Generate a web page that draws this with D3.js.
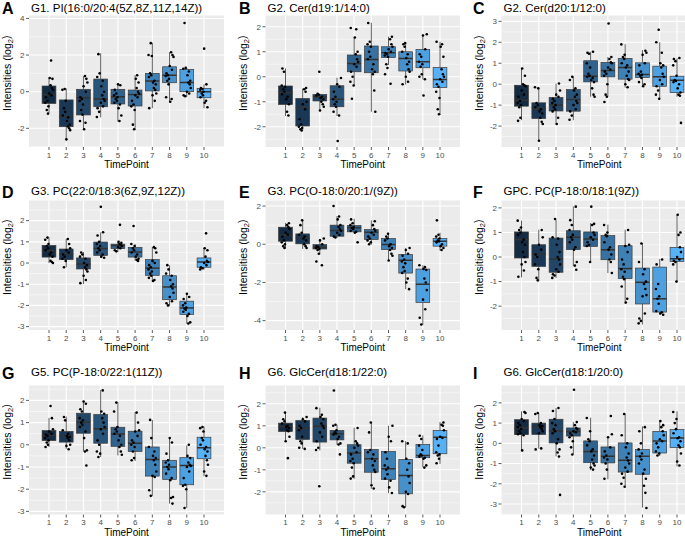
<!DOCTYPE html>
<html><head><meta charset="utf-8">
<script src="https://cdn.jsdelivr.net/npm/d3@7"></script>
<style>body{margin:0;background:#fff}svg{display:block;font-family:"Liberation Sans",Arial,sans-serif}</style>
</head><body><svg id="c" width="685" height="537"></svg>
<script>
const timePoints = [1,2,3,4,5,6,7,8,9,10];
const letters = ["A","B","C","D","E","F","G","H","I"];
const titles = ["G1. PI(16:0/20:4(5Z,8Z,11Z,14Z))","G2. Cer(d19:1/14:0)","G2. Cer(d20:1/12:0)",
  "G3. PC(22:0/18:3(6Z,9Z,12Z))","G3. PC(O-18:0/20:1/(9Z))","GPC. PC(P-18:0/18:1(9Z))",
  "G5. PC(P-18:0/22:1(11Z))","G6. GlcCer(d18:1/22:0)","G6. GlcCer(d18:1/20:0)"];
const yTicks = [[-2,0,2,4],[-2,-1,0,1,2],[-2,-1,0,1,2,3],[-3,-2,-1,0,1,2],[-4,-2,0,2],[-2,-1,0,1,2],[-3,-2,-1,0,1,2],[-2,-1,0,1,2],[-3,-2,-1,0,1,2]];
const yDomains = [[-3.02,4.16],[-2.81,2.45],[-3.0,3.28],[-3.16,2.95],[-4.49,2.29],[-2.97,2.3],[-3.14,2.67],[-3.03,2.83],[-3.52,2.86]];

// box stats: [lower whisker, q1, median, q3, upper whisker]
const boxesA = [[-1.2,-0.64,-0.15,0.31,0.75],[-2.7,-1.91,-1.36,-0.45,0.18],[-2.1,-1.27,-0.33,0.13,0.85],[-1.4,-0.82,-0.4,0.69,2.1],[-1.64,-0.67,-0.27,0.13,0.42],[-2.1,-0.78,-0.15,0.09,0.9],[-0.9,0.04,0.58,1.0,2.67],[-0.58,0.49,0.9,1.36,2.15],[-0.27,0.0,0.5,1.22,1.3],[-0.9,-0.33,0.0,0.18,0.4]];
const ptsA = [[1.7,0.75,0.7,0.35,0.2,0.1,-0.1,-0.2,-0.3,-0.5,-0.6,-0.8,-1.0,-1.2],[0.15,0.1,-0.5,-0.9,-1.1,-1.3,-1.4,-1.6,-1.8,-1.9,-2.0,-2.1,-2.6],[0.85,0.7,0.5,0.3,0.0,-0.3,-0.4,-0.5,-0.7,-1.0,-1.25,-1.6,-1.7,-2.05],[2.05,1.0,0.8,0.6,0.3,0.0,-0.2,-0.4,-0.5,-0.6,-0.8,-0.9,-1.1,-1.38],[0.4,0.35,0.1,-0.1,-0.2,-0.3,-0.4,-0.5,-0.6,-0.7,-0.9,-1.3,-1.6],[0.9,0.7,0.5,0.2,0.0,-0.1,-0.2,-0.3,-0.5,-0.7,-0.8,-1.0,-1.8,-2.05],[2.65,2.0,1.95,1.0,0.9,0.8,0.6,0.5,0.4,0.2,0.1,-0.1,-0.2,-0.5,-0.9],[2.15,2.0,1.9,1.4,1.2,1.0,0.9,0.85,0.7,0.6,0.4,-0.3,-0.4,-0.55],[3.75,1.3,1.25,1.1,0.9,0.6,0.5,0.4,0.2,0.0,-0.1,-0.2,-0.25],[2.35,0.4,0.2,0.15,0.1,0.0,-0.1,-0.2,-0.3,-0.5,-0.6,-0.85]];

const boxesB = [[-1.57,-1.11,-0.64,-0.37,0.33],[-2.17,-1.97,-1.24,-0.87,-0.47],[-1.33,-0.97,-0.8,-0.71,-0.68],[-1.57,-1.2,-0.9,-0.36,-0.04],[-0.33,0.2,0.53,0.87,1.57],[-1.4,0.16,0.69,1.23,2.16],[0.47,0.77,0.96,1.2,1.6],[-0.31,0.23,0.73,1.0,1.36],[-0.1,0.36,0.6,1.09,1.7],[-1.53,-0.43,-0.11,0.37,1.4]];
const ptsB = [[0.33,0.2,-0.35,-0.4,-0.5,-0.6,-0.7,-0.8,-0.9,-1.1,-1.4,-1.55],[-0.45,-0.5,-0.6,-1.0,-1.1,-1.3,-1.7,-1.9,-2.0,-2.05,-2.1,-2.15],[0.2,-0.68,-0.72,-0.75,-0.8,-0.85,-0.9,-1.0,-1.1,-1.2,-1.35],[-0.05,-0.3,-0.4,-0.6,-0.8,-0.9,-1.0,-1.1,-1.2,-1.4,-1.55,-2.57],[1.95,1.9,1.57,1.0,0.9,0.7,0.6,0.5,0.4,0.2,0.0,-0.2,-0.35,-0.88],[2.15,1.4,1.3,1.2,1.0,0.8,0.7,0.5,0.3,0.2,0.1,-0.55,-1.4],[1.6,1.5,1.3,1.2,1.1,1.0,0.95,0.9,0.85,0.8,0.5,0.35,0.1,-0.28],[1.35,1.3,1.2,1.0,0.9,0.75,0.6,0.5,0.3,0.2,0.0,-0.2,-0.3],[1.7,1.65,1.1,0.9,0.8,0.6,0.5,0.4,0.1,0.0,-0.1,-0.75],[1.4,1.3,1.2,0.8,0.3,0.1,0.0,-0.1,-0.2,-0.3,-0.4,-0.6,-0.85,-1.3,-1.5]];

const boxesC = [[-1.72,-1.05,-0.77,-0.05,0.75],[-2.7,-1.64,-1.16,-0.89,-0.16],[-1.91,-1.28,-1.0,-0.64,0.03],[-1.72,-1.29,-0.73,-0.26,0.35],[-0.6,0.11,0.38,1.12,1.55],[-0.6,0.35,0.65,1.04,1.3],[-0.16,0.24,0.8,1.23,1.91],[-0.1,0.32,0.46,1.02,1.63],[-0.69,-0.1,0.35,0.86,2.0],[-0.6,-0.4,0.19,0.38,1.23]];
const ptsC = [[0.75,0.4,0.0,-0.05,-0.1,-0.3,-0.5,-0.6,-0.8,-0.9,-1.0,-1.1,-1.6,-1.75],[-0.15,-0.2,-0.9,-1.0,-1.1,-1.2,-1.3,-1.4,-1.6,-1.8,-1.9,-2.7],[0.03,-0.3,-0.5,-0.6,-0.7,-0.8,-0.9,-1.0,-1.1,-1.2,-1.3,-1.6,-1.9],[0.35,0.2,-0.2,-0.3,-0.5,-0.6,-0.8,-0.9,-1.0,-1.2,-1.3,-1.5,-1.7],[1.55,1.5,1.45,1.0,0.8,0.5,0.4,0.35,0.3,0.2,0.1,-0.2,-0.5,-0.6],[2.9,1.3,1.2,1.05,1.0,0.8,0.7,0.6,0.5,0.4,0.0,-0.5,-0.6,-0.85],[1.9,1.4,1.3,1.2,1.0,0.9,0.8,0.6,0.4,0.25,0.2,0.0,-0.15],[1.6,1.5,1.4,1.0,0.9,0.6,0.5,0.45,0.4,0.3,0.1,0.0,-0.1],[2.6,2.0,1.5,1.0,0.9,0.8,0.5,0.35,0.2,0.0,-0.1,-0.3,-0.5,-0.7],[1.25,1.2,1.1,0.9,0.4,0.2,0.15,0.1,0.0,-0.2,-0.4,-0.5,-0.55,-1.85]];

const boxesD = [[0.0,0.28,0.58,0.83,1.21],[-0.2,0.16,0.42,0.66,1.13],[-0.99,-0.28,-0.05,0.24,0.52],[0.24,0.36,0.68,0.99,1.44],[0.52,0.68,0.83,0.89,1.02],[0.11,0.28,0.52,0.74,0.89],[-0.86,-0.58,-0.24,0.16,0.75],[-2.04,-1.73,-1.13,-0.6,-0.11],[-2.87,-2.43,-2.12,-1.8,-1.46],[-0.31,-0.2,0.05,0.24,0.7]];
const ptsD = [[1.2,1.1,0.9,0.8,0.7,0.6,0.5,0.4,0.3,0.1,0.05,0.0],[1.13,0.9,0.7,0.6,0.5,0.4,0.3,0.2,0.1,-0.2],[0.5,0.4,0.3,0.2,0.0,-0.1,-0.2,-0.3,-0.4,-0.6,-0.8,-0.95],[2.65,1.45,1.3,1.0,0.9,0.8,0.7,0.6,0.5,0.4,0.3,0.25],[1.8,1.0,0.95,0.9,0.85,0.8,0.75,0.7,0.6,0.55],[1.75,0.9,0.8,0.7,0.6,0.5,0.4,0.3,0.2,0.15,0.1],[0.75,0.7,0.5,0.1,0.0,-0.1,-0.2,-0.3,-0.4,-0.5,-0.6,-0.7,-0.8,-0.85],[-0.1,-0.3,-0.5,-0.6,-0.8,-1.0,-1.1,-1.2,-1.4,-1.6,-1.8,-1.9,-2.0],[-1.45,-1.6,-1.7,-1.9,-2.0,-2.1,-2.15,-2.2,-2.3,-2.4,-2.5,-2.8,-2.85],[1.4,0.7,0.6,0.3,0.1,0.05,0.0,-0.1,-0.2,-0.25,-0.3]];

const boxesE = [[-0.23,0.16,0.47,0.89,1.12],[-0.25,0.02,0.33,0.54,1.25],[-0.54,-0.25,-0.16,-0.02,0.28],[0.33,0.42,0.72,1.0,1.47],[0.6,0.65,0.86,0.98,1.33],[-0.02,0.25,0.63,0.77,1.25],[-0.86,-0.28,-0.02,0.3,0.6],[-2.35,-1.51,-0.84,-0.54,-0.19],[-4.23,-3.05,-2.09,-1.3,-1.1],[-0.33,-0.1,0.16,0.3,0.6]];
const ptsE = [[1.1,1.0,0.9,0.8,0.6,0.5,0.4,0.2,0.1,0.0,-0.1,-0.2],[1.25,1.0,0.6,0.5,0.4,0.3,0.2,0.0,-0.1,-0.2],[0.3,0.2,0.0,-0.1,-0.15,-0.2,-0.25,-0.3,-0.5,-0.9,-1.1],[2.0,1.45,1.3,1.0,0.9,0.8,0.7,0.6,0.5,0.4,0.35],[1.3,1.1,1.0,0.9,0.85,0.8,0.7,0.65,0.6,0.1],[1.2,1.0,0.8,0.7,0.6,0.5,0.4,0.3,0.2,0.1,0.0],[0.55,0.4,0.3,0.2,0.0,-0.1,-0.2,-0.3,-0.5,-0.6,-0.85],[-0.2,-0.3,-0.5,-0.6,-0.8,-0.9,-1.0,-1.2,-1.4,-1.5,-1.8,-2.0,-2.35],[-1.1,-1.2,-1.3,-1.35,-1.8,-2.0,-2.4,-2.9,-3.4,-3.85,-4.2],[1.25,0.5,0.4,0.3,0.2,0.15,0.1,0.0,-0.1,-0.2,-0.3]];

const boxesF = [[-0.83,-0.04,0.71,1.02,1.48],[-0.99,-0.38,0.12,0.5,1.11],[-0.85,-0.62,-0.08,0.77,1.52],[-0.38,0.3,0.8,1.07,2.06],[-0.18,0.43,0.73,1.02,1.38],[-0.65,-0.11,0.3,0.87,1.32],[-1.91,-0.88,-0.47,0.46,1.11],[-2.75,-1.91,-1.03,-0.45,0.57],[-2.35,-2.24,-1.7,-0.41,-0.08],[-1.02,-0.18,-0.07,0.39,1.72]];
const ptsF = [[1.48,1.2,1.1,1.0,0.9,0.7,0.6,0.5,0.2,0.0,-0.2,-0.3,-0.55,-0.8],[1.1,0.8,0.5,0.3,0.1,0.0,-0.3,-0.5,-0.85,-0.95],[1.55,0.8,0.75,0.5,0.2,0.0,-0.1,-0.3,-0.5,-0.6,-0.7,-0.75,-0.85],[2.05,1.5,1.3,1.1,0.9,0.8,0.7,0.6,0.4,0.3,-0.2,-0.35,-0.52],[2.05,1.35,1.3,1.0,0.9,0.8,0.7,0.6,0.5,0.45,-0.2],[1.3,1.0,0.9,0.85,0.6,0.4,0.3,0.1,-0.1,-0.2,-0.65],[1.1,0.5,0.45,0.2,-0.1,-0.3,-0.5,-0.6,-0.8,-0.9,-1.2,-1.7,-1.85],[0.55,-0.2,-0.5,-0.7,-1.0,-1.1,-1.3,-1.55,-1.6,-2.3,-2.5,-2.6,-2.7],[-0.1,-0.3,-1.1,-1.3,-1.6,-1.7,-1.9,-2.2,-2.25,-2.3,-2.35],[1.72,1.0,0.9,0.4,0.2,0.0,-0.1,-0.15,-0.2,-0.3,-1.0]];

const boxesG = [[-0.1,0.19,0.42,0.64,1.21],[-0.18,0.12,0.39,0.6,1.27],[-0.3,0.52,1.02,1.42,1.96],[-0.55,0.07,0.72,1.36,2.47],[-0.48,-0.07,0.49,0.79,1.92],[-0.73,-0.3,0.07,0.61,1.47],[-2.32,-1.41,-0.66,-0.1,1.12],[-2.65,-1.56,-1.0,-0.7,0.3],[-2.85,-1.8,-0.93,-0.58,-0.03],[-1.42,-0.63,-0.13,0.34,0.82]];
const ptsG = [[1.75,1.2,0.7,0.6,0.5,0.45,0.4,0.3,0.2,0.1,0.0,-0.1],[1.25,1.1,0.65,0.5,0.4,0.35,0.3,0.2,0.0,-0.05,-0.2],[1.95,1.85,1.6,1.5,1.2,1.1,1.0,0.9,0.8,0.6,0.3,-0.25,-0.3,-0.93],[2.45,1.5,1.4,1.2,1.0,0.8,0.7,0.5,0.2,0.0,-0.3,-0.4,-0.55],[1.9,1.5,0.8,0.7,0.6,0.5,0.4,0.2,0.0,-0.1,-0.3,-0.45],[1.45,1.0,0.65,0.6,0.4,0.2,0.1,0.0,-0.1,-0.3,-0.6,-0.7],[1.12,0.3,-0.1,-0.3,-0.5,-0.6,-0.7,-0.9,-1.2,-1.4,-1.45,-2.05,-2.3],[0.3,0.1,-0.4,-0.7,-0.8,-0.9,-1.0,-1.1,-1.3,-1.5,-1.6,-2.35,-2.4,-2.65],[0.0,-0.5,-0.6,-0.8,-0.9,-0.95,-1.0,-1.2,-1.5,-1.8,-1.85,-2.0,-2.85],[0.8,0.75,0.6,0.3,0.2,0.0,-0.1,-0.2,-0.3,-0.5,-0.7,-0.9,-1.2,-1.4]];

const boxesH = [[0.3,0.74,0.97,1.12,1.62],[-0.05,0.38,0.89,1.24,1.39],[-0.12,0.26,0.98,1.35,1.82],[0.14,0.36,0.64,0.79,1.05],[-1.41,-0.7,-0.24,0.14,0.91],[-1.86,-1.11,-0.5,-0.08,1.15],[-2.06,-1.44,-0.95,-0.17,1.0],[-2.7,-2.09,-1.26,-0.53,0.3],[-0.88,-0.45,-0.35,0.15,0.56],[-0.73,-0.27,0.48,0.79,1.17]];
const ptsH = [[1.6,1.3,1.2,1.1,1.0,0.95,0.9,0.8,0.75,0.5,0.3,-0.47],[1.4,1.3,1.2,1.0,0.9,0.8,0.5,0.3,0.2,0.0,-0.05],[1.8,1.5,1.4,1.3,1.1,1.0,0.9,0.7,0.5,0.3,0.0,-0.1,-1.75],[2.6,1.05,1.0,0.8,0.7,0.65,0.6,0.5,0.4,0.2,0.15,-0.3],[0.9,0.3,0.2,0.1,0.0,-0.2,-0.3,-0.5,-0.6,-0.7,-0.9,-1.3,-1.4],[1.15,0.7,-0.1,-0.2,-0.3,-0.5,-0.6,-0.8,-1.0,-1.1,-1.7,-1.85],[1.0,0.5,0.3,-0.2,-0.5,-0.8,-0.9,-1.0,-1.2,-1.4,-1.5,-1.8,-2.05],[0.3,0.2,-0.5,-0.7,-1.0,-1.3,-1.6,-2.0,-2.1,-2.65,-2.7],[0.55,0.4,0.1,-0.1,-0.3,-0.35,-0.4,-0.45,-0.5,-0.8,-0.9],[1.15,1.05,1.0,0.8,0.5,0.45,0.4,0.1,-0.2,-0.3,-0.35,-0.5,-0.7]];

const boxesI = [[-0.4,0.43,0.76,1.17,1.58],[-0.26,0.44,0.81,1.0,1.5],[-0.64,0.02,0.61,1.19,1.75],[-0.54,0.36,0.59,0.76,1.05],[-1.33,-0.96,-0.4,0.12,1.27],[-1.78,-0.97,-0.64,-0.18,0.31],[-2.16,-1.42,-0.84,0.02,1.47],[-3.18,-1.53,-0.64,-0.31,0.84],[-0.63,-0.48,0.12,0.59,1.14],[-1.14,-0.21,0.26,0.68,1.58]];
const ptsI = [[1.55,1.5,1.2,1.1,1.0,0.9,0.8,0.7,0.6,0.5,0.45,0.4,-0.35],[1.5,1.45,1.0,0.9,0.85,0.8,0.7,0.6,0.5,-0.25,-0.3],[1.75,1.6,1.2,1.0,0.9,0.7,0.6,0.5,0.2,0.0,-0.3,-0.45,-0.65,-2.55],[2.65,1.05,0.9,0.75,0.7,0.6,0.55,0.5,0.4,0.3,0.1,-0.2,-0.55],[1.25,0.6,0.2,0.1,-0.1,-0.3,-0.4,-0.6,-0.8,-1.0,-1.1,-1.2,-1.3],[1.35,0.45,0.3,-0.2,-0.4,-0.6,-0.7,-0.8,-1.0,-1.3,-1.75],[1.45,0.4,0.0,-0.2,-0.5,-0.7,-0.85,-1.0,-1.2,-1.4,-1.5,-1.7,-2.0,-2.15],[0.8,0.6,0.0,-0.3,-0.5,-0.65,-0.8,-1.0,-1.3,-1.5,-1.75,-2.1,-2.45,-3.2],[1.1,0.9,0.8,0.6,0.4,0.2,0.1,0.0,-0.2,-0.4,-0.5,-0.6],[1.55,1.2,1.0,0.7,0.5,0.3,0.25,0.1,-0.1,-0.2,-0.5,-0.9,-1.1]];

const allBoxes = [boxesA,boxesB,boxesC,boxesD,boxesE,boxesF,boxesG,boxesH,boxesI];
const allPts = [ptsA,ptsB,ptsC,ptsD,ptsE,ptsF,ptsG,ptsH,ptsI];
// fixed jitter pattern (fraction of category step)
const jitterPattern = [0.12,-0.18,0.04,-0.09,0.2,-0.22,0.09,-0.03,0.17,-0.13,0.23,-0.06,0.01,-0.2,0.14];

// layout
const colX = [[29,224],[265.5,460],[501.5,697]];
const rowY = [[15.5,147],[200.5,330],[385.5,514.5]];
const titleY = [7.5,191,372];
const letterX = [2,239,473];

const svg = d3.select("#c");
const fillScale = d3.scaleLinear().domain([1,10]).range(["#132B43","#56B1F7"]).interpolate(d3.interpolateLab);

for (let p = 0; p < 9; p++) {
  const col = p % 3, row = Math.floor(p / 3);
  const [x0,x1] = colX[col], [y0,y1] = rowY[row];
  const x = d3.scaleLinear().domain([1,10]).range([x0+20, x1-20]);
  const step = x(2) - x(1);
  const y = d3.scaleLinear().domain(yDomains[p]).range([y1, y0]);
  const g = svg.append("g");
  const clipId = "clip"+p;
  svg.append("clipPath").attr("id",clipId).append("rect").attr("x",x0).attr("y",y0).attr("width",x1-x0).attr("height",y1-y0);
  g.append("rect").attr("x",x0).attr("y",y0).attr("width",x1-x0).attr("height",y1-y0).attr("fill","#EBEBEB");
  const inner = g.append("g").attr("clip-path",`url(#${clipId})`);
  const maj = yTicks[p];
  const st = maj[1]-maj[0];
  const minors = [];
  for (let v = maj[0]-st/2; v <= maj[maj.length-1]+st/2+1e-9; v += st) minors.push(v);
  inner.selectAll(".mn").data(minors.filter(v => v>yDomains[p][0] && v<yDomains[p][1])).join("line")
    .attr("x1",x0).attr("x2",x1).attr("y1",d=>y(d)).attr("y2",d=>y(d)).attr("stroke","#fff").attr("stroke-width",0.5);
  inner.selectAll(".mj").data(maj).join("line")
    .attr("x1",x0).attr("x2",x1).attr("y1",d=>y(d)).attr("y2",d=>y(d)).attr("stroke","#fff").attr("stroke-width",1.1);
  inner.selectAll(".vx").data(timePoints).join("line")
    .attr("x1",d=>x(d)).attr("x2",d=>x(d)).attr("y1",y0).attr("y2",y1).attr("stroke","#fff").attr("stroke-width",1.1);
  const bw = step*0.8;
  const boxes = allBoxes[p];
  timePoints.forEach((t,i) => {
    const [lo,q1,md,q3,hi] = boxes[i];
    const bg = inner.append("g");
    bg.append("line").attr("x1",x(t)).attr("x2",x(t)).attr("y1",y(hi)).attr("y2",y(q3)).attr("stroke","#3a3a3a").attr("stroke-width",0.8);
    bg.append("line").attr("x1",x(t)).attr("x2",x(t)).attr("y1",y(q1)).attr("y2",y(lo)).attr("stroke","#3a3a3a").attr("stroke-width",0.8);
    bg.append("rect").attr("x",x(t)-bw/2).attr("width",bw).attr("y",y(q3)).attr("height",y(q1)-y(q3))
      .attr("fill",fillScale(t)).attr("stroke","#3a3a3a").attr("stroke-width",0.7);
    bg.append("line").attr("x1",x(t)-bw/2).attr("x2",x(t)+bw/2).attr("y1",y(md)).attr("y2",y(md)).attr("stroke","#333").attr("stroke-width",1.5);
  });
  timePoints.forEach((t,i) => {
    const pts = allPts[p][i];
    inner.selectAll(null).data(pts).join("circle")
      .attr("cx",(d,k)=>x(t)+jitterPattern[(k*2+i*3+p)%jitterPattern.length]*step)
      .attr("cy",d=>y(d)).attr("r",1.3).attr("fill","#000");
  });
  const ya = g.append("g");
  maj.forEach(v => {
    ya.append("line").attr("x1",x0-3).attr("x2",x0).attr("y1",y(v)).attr("y2",y(v)).attr("stroke","#333").attr("stroke-width",0.8);
    ya.append("text").attr("x",x0-4.5).attr("y",y(v)).attr("dy","0.35em").attr("text-anchor","end")
      .attr("font-size",8).attr("fill","#4D4D4D").text(v<0?"-"+Math.abs(v):v);
  });
  timePoints.forEach(t => {
    g.append("line").attr("x1",x(t)).attr("x2",x(t)).attr("y1",y1).attr("y2",y1+3).attr("stroke","#333").attr("stroke-width",0.8);
    g.append("text").attr("x",x(t)).attr("y",y1+8).attr("dy","0.35em").attr("text-anchor","middle")
      .attr("font-size",8).attr("fill","#4D4D4D").text(t);
  });
  g.append("text").attr("x",(x0+x1)/2).attr("y",y1+17.5).attr("dy","0.35em").attr("text-anchor","middle")
    .attr("font-size",10).attr("fill","#000").text("TimePoint");
  const ytx = x0-22, yty = (y0+y1)/2 - 8;
  const yt = g.append("text").attr("transform",`translate(${ytx},${yty}) rotate(-90)`).attr("text-anchor","middle")
    .attr("dy","0.35em").attr("font-size",10.5).attr("fill","#000");
  yt.append("tspan").text("Intensities (log");
  yt.append("tspan").attr("font-size",7.5).attr("dy","0.3em").text("2");
  yt.append("tspan").attr("dy","-0.3em").text(")");
  g.append("text").attr("x",x0+2).attr("y",titleY[row]).attr("dy","0.35em").attr("font-size",11.5).attr("fill","#000").text(titles[p]);
  g.append("text").attr("x",letterX[col]).attr("y",titleY[row]+1).attr("dy","0.36em").attr("font-size",16).attr("font-weight","bold").attr("fill","#000").text(letters[p]);
}
</script></body></html>
